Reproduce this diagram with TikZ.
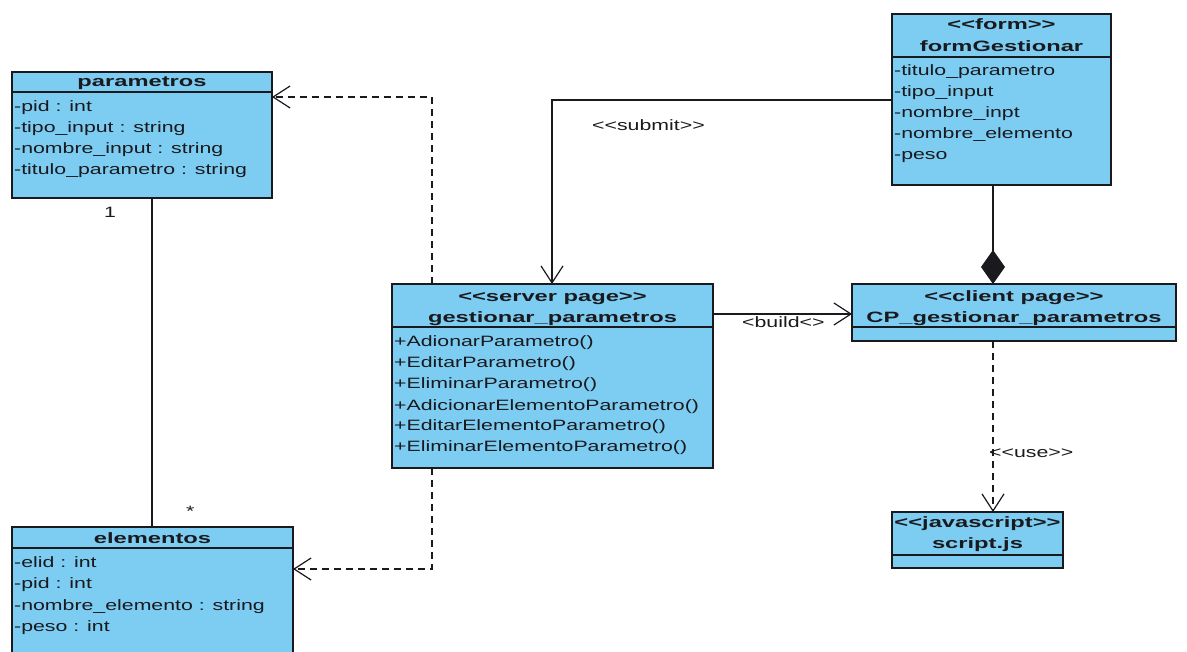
\documentclass[tikz,border=0pt]{standalone}
\usepackage{fontspec}
\newfontfamily\regfont[FakeStretch=1.42]{Liberation Sans}
\newfontfamily\hdfont[FakeStretch=1.58]{Liberation Sans}
\usetikzlibrary{arrows.meta,calc}
\definecolor{classfill}{RGB}{125,205,242}
\definecolor{ink}{RGB}{25,25,30}

\begin{document}
\begin{tikzpicture}[x=1pt,y=-1pt,
  classbox/.style={draw=ink, fill=classfill, line width=1.4pt, inner sep=0pt, outer sep=0pt, anchor=north west},
  sepline/.style={draw=ink, line width=1.2pt},
  member/.style={anchor=base west, inner sep=0pt, font=\regfont\fontsize{15}{18}\selectfont, text=ink},
  ctitle/.style={anchor=base, inner sep=0pt, font=\hdfont\bfseries\fontsize{15}{18}\selectfont, text=ink},
  lbl/.style={anchor=base west, inner sep=0pt, font=\regfont\fontsize{15}{18}\selectfont, text=ink},
  conn/.style={draw=ink, line width=1.2pt},
  dep/.style={conn, dash pattern=on 7pt off 5pt},
  opentip/.style={-{Straight Barb[length=17pt,width=22pt,line width=1.2pt]}},
  diamondtip/.style={-{Diamond[length=34pt,width=24pt]}}
]
\useasboundingbox (0,0) rectangle (1187,652);
\clip (0,0) rectangle (1187,652);

% ---------- class boxes ----------
\node[classbox, minimum width=260pt, minimum height=126pt] (par)  at (12,72)  {};
\node[classbox, minimum width=281pt, minimum height=145pt] (elem) at (12,527) {};
\node[classbox, minimum width=321pt, minimum height=184pt] (gest) at (392,284) {};
\node[classbox, minimum width=219pt, minimum height=171pt] (form) at (892,14) {};
\node[classbox, minimum width=324pt, minimum height=57pt]  (cp)   at (852,284) {};
\node[classbox, minimum width=171pt, minimum height=56pt]  (js)   at (892,512) {};

% compartment separators
\draw[sepline] ($(par.north west)+(0,20)$)  -- ($(par.north east)+(0,20)$);
\draw[sepline] ($(elem.north west)+(0,21)$) -- ($(elem.north east)+(0,21)$);
\draw[sepline] ($(gest.north west)+(0,43)$) -- ($(gest.north east)+(0,43)$);
\draw[sepline] ($(form.north west)+(0,43)$) -- ($(form.north east)+(0,43)$);
\draw[sepline] ($(cp.north west)+(0,43)$)   -- ($(cp.north east)+(0,43)$);
\draw[sepline] ($(js.north west)+(0,43)$)   -- ($(js.north east)+(0,43)$);

% ---------- titles ----------
\node[ctitle] (parT)  at ($(par.north)+(0,15)$)    {parametros};
\node[ctitle] (elemT) at ($(elem.north)+(0,16)$)   {elementos};
\node[ctitle] (gestS) at ($(gest.north)+(0,18)$)   {<<server page>>};
\node[ctitle] (gestT) at ($(gest.north)+(0,39)$)   {gestionar\_parametros};
\node[ctitle] (formS) at ($(form.north)+(0,15.5)$) {<<form>>};
\node[ctitle] (formT) at ($(form.north)+(0,37.5)$) {formGestionar};
\node[ctitle] (cpS)   at ($(cp.north)+(0,18)$)     {<<client page>>};
\node[ctitle] (cpT)   at ($(cp.north)+(0,39)$)     {CP\_gestionar\_parametros};
\node[ctitle] (jsS)   at ($(js.north)+(0,15)$)     {<<javascript>>};
\node[ctitle] (jsT)   at ($(js.north)+(0,36)$)     {script.js};

% ---------- members ----------
\node[member] (p1) at (14,112) {-pid : int};
\node[member] (p2) at (14,133) {-tipo\_input : string};
\node[member] (p3) at (14,154) {-nombre\_input : string};
\node[member] (p4) at (14,175) {-titulo\_parametro : string};

\node[member] (e1) at (14,567) {-elid : int};
\node[member] (e2) at (14,588) {-pid : int};
\node[member] (e3) at (14,610) {-nombre\_elemento : string};
\node[member] (e4) at (14,631) {-peso : int};

\node[member] (g1) at (394,347) {+AdionarParametro()};
\node[member] (g2) at (394,368) {+EditarParametro()};
\node[member] (g3) at (394,389) {+EliminarParametro()};
\node[member] (g4) at (394,410) {+AdicionarElementoParametro()};
\node[member] (g5) at (394,431) {+EditarElementoParametro()};
\node[member] (g6) at (394,452) {+EliminarElementoParametro()};

\node[member] (f1) at (894,76)  {-titulo\_parametro};
\node[member] (f2) at (894,97)  {-tipo\_input};
\node[member] (f3) at (894,118) {-nombre\_inpt};
\node[member] (f4) at (894,139) {-nombre\_elemento};
\node[member] (f5) at (894,160) {-peso};

% ---------- routing guides ----------
\coordinate (xAsc)  at (152,0);
\coordinate (xDep)  at (432,0);
\coordinate (yPar)  at (0,97);
\coordinate (yElem) at (0,569);
\coordinate (ySub)  at (0,100);
\coordinate (xSub)  at (552,0);
\coordinate (yBld)  at (0,314);
\coordinate (xCmp)  at (993,0);

% ---------- connectors ----------
% association parametros 1 -- * elementos
\draw[conn] (par.south -| xAsc) -- (elem.north -| xAsc);
\node[lbl] (m1) at (104,218) {1};
\node[lbl] (m2) at (186,516) {*};

% server page dependencies on the entities
\draw[dep, opentip] (gest.north -| xDep) |- (par.east |- yPar);
\draw[dep, opentip] (gest.south -| xDep) |- (elem.east |- yElem);

% form submits to the server page
\draw[conn, opentip] (form.west |- ySub) -| (gest.north -| xSub);
\node[lbl] (subL) at (592,131) {<<submit>>};

% server page builds the client page
\draw[conn, opentip] (gest.east |- yBld) -- (cp.west |- yBld);
\node[lbl] (bldL) at (742,328) {<build<>};

% form is composed into the client page
\draw[conn, diamondtip] (form.south -| xCmp) -- (cp.north -| xCmp);

% client page uses the script
\draw[dep, opentip] (cp.south -| xCmp) -- (js.north -| xCmp);
\node[lbl] (useL) at (989,457) {<<use>>};
\end{tikzpicture}
\end{document}
